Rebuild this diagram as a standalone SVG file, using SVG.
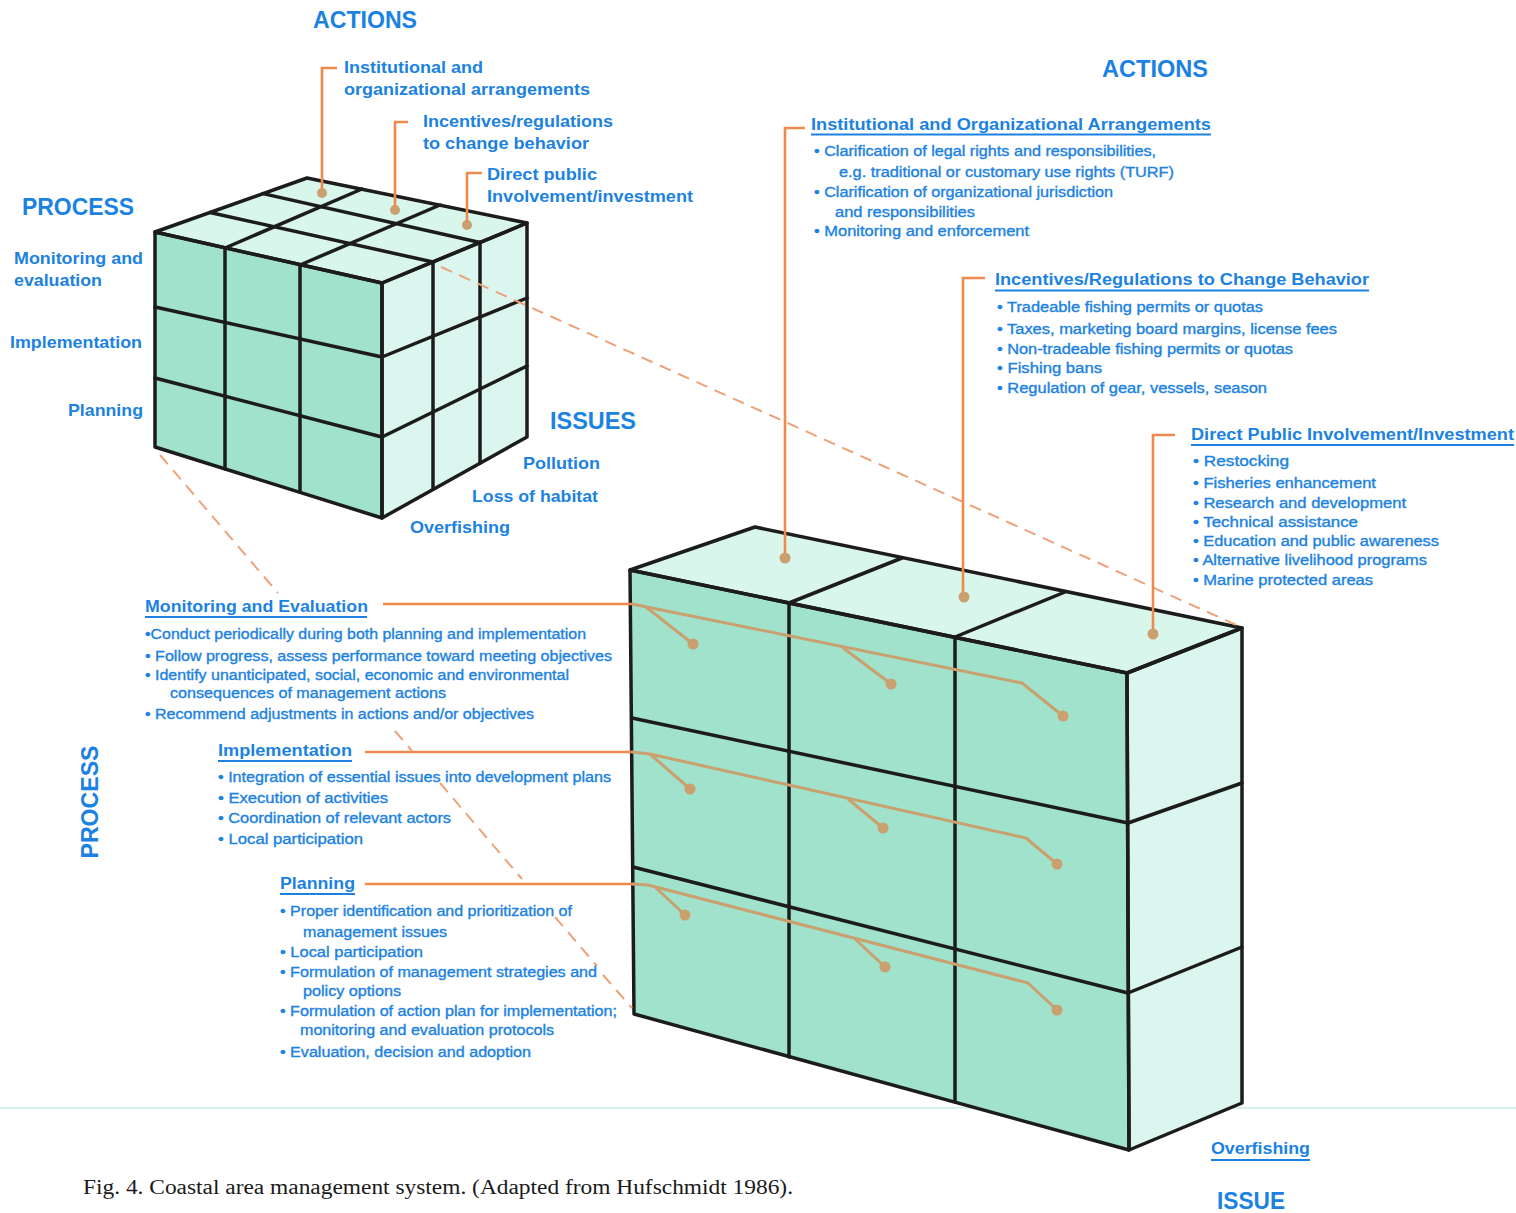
<svg xmlns="http://www.w3.org/2000/svg" width="1516" height="1213" viewBox="0 0 1516 1213">
  <style>
    text { font-family: "Liberation Sans", Arial, sans-serif; fill: #1b82e2; }
    .big { font-size: 23px; font-weight: bold; }
    .lab { font-size: 17px; font-weight: bold; }
    .hd { font-size: 16px; font-weight: bold; }
    .bul { font-size: 14px; stroke: #1b82e2; stroke-width: 0.35; }
    .cap { font-family: "Liberation Serif", "Times New Roman", serif; font-size: 20px; fill: #1a1a1a; }
    .ul { stroke: #1b82e2; stroke-width: 2; }
    .edge { stroke: #1c1c1c; stroke-width: 3.5; stroke-linejoin: round; stroke-linecap: round; fill: none; }
    .front { fill: #a1e2cc; }
    .top { fill: #d8f6ec; }
    .side { fill: #dbf6ee; }
    .orange { stroke: #f08a4c; stroke-width: 2.6; fill: none; }
    .tan { stroke: #c9a06e; stroke-width: 3; fill: none; stroke-linejoin: round; }
    .dash { stroke: #eda27a; stroke-width: 2; stroke-dasharray: 12 8; fill: none; }
    .dot { fill: #c9a06e; }
  </style>

  <rect width="1516" height="1213" fill="#ffffff"/>
  <!-- faint fold line across the page -->
  <line x1="0" y1="1108" x2="1516" y2="1108" stroke="#cdeee6" stroke-width="2" opacity="0.8"/>

  <!-- small 3x3x3 cube -->
  <g id="small-cube">
    <polygon class="front" points="155,232 382,283 382,518 155,447"/>
    <polygon class="side" points="382,283 527,223 527,437 382,518"/>
    <polygon class="top" points="155,232 307,178 527,223 382,283"/>
    <g class="edge">
      <polygon points="155,232 382,283 382,518 155,447"/>
      <polygon points="382,283 527,223 527,437 382,518"/>
      <polygon points="155,232 307,178 527,223 382,283"/>
      <!-- front grid -->
      <line x1="225" y1="248" x2="225" y2="469"/>
      <line x1="300" y1="265" x2="300" y2="492"/>
      <line x1="155" y1="307" x2="382" y2="357"/>
      <line x1="155" y1="378" x2="382" y2="437"/>
      <!-- side grid -->
      <line x1="433" y1="262" x2="433" y2="489"/>
      <line x1="480" y1="242" x2="480" y2="463"/>
      <line x1="382" y1="357" x2="527" y2="298"/>
      <line x1="382" y1="437" x2="527" y2="366"/>
      <!-- top grid -->
      <line x1="210" y1="212.5" x2="433" y2="262"/>
      <line x1="263" y1="193.6" x2="480" y2="242.5"/>
      <line x1="225" y1="248" x2="362" y2="189"/>
      <line x1="300" y1="265" x2="440" y2="205"/>
    </g>
    <circle class="dot" cx="322" cy="193" r="5"/>
    <circle class="dot" cx="395" cy="210" r="5"/>
    <circle class="dot" cx="467" cy="225" r="5"/>
  </g>

  <!-- large 3x3x1 block -->
  <g id="large-block">
    <polygon class="front" points="630,570 1127,673 1129,1150 634,1014"/>
    <polygon class="side" points="1127,673 1242,628 1242,1103 1129,1150"/>
    <polygon class="top" points="630,570 755,527 1242,628 1127,673"/>
    <g class="edge">
      <polygon points="630,570 1127,673 1129,1150 634,1014"/>
      <polygon points="1127,673 1242,628 1242,1103 1129,1150"/>
      <polygon points="630,570 755,527 1242,628 1127,673"/>
      <line x1="789" y1="603" x2="902" y2="558"/>
      <line x1="955" y1="637" x2="1065" y2="592"/>
      <line x1="789" y1="603" x2="789" y2="1057"/>
      <line x1="955" y1="637" x2="955" y2="1102"/>
      <line x1="632" y1="718" x2="1128" y2="823"/>
      <line x1="633" y1="867" x2="1128" y2="993"/>
      <line x1="1128" y1="823" x2="1242" y2="783"/>
      <line x1="1128" y1="993" x2="1242" y2="947"/>
    </g>
  </g>

  <!-- connectors -->
  <g id="connectors">
    <!-- projection lines between the two solids -->
    <line class="dash" x1="441" y1="267" x2="1243" y2="628"/>
    <line class="dash" x1="160" y1="455" x2="278" y2="593"/>
    <line class="dash" x1="395" y1="731" x2="412" y2="751"/>
    <line class="dash" x1="440" y1="783" x2="522" y2="879"/>
    <line class="dash" x1="555" y1="917" x2="597" y2="966"/>
    <line class="dash" x1="603" y1="975" x2="632" y2="1008"/>

    <!-- small cube action leaders -->
    <polyline class="orange" points="337,68 322,68 322,190"/>
    <polyline class="orange" points="408,122 395,122 395,207"/>
    <polyline class="orange" points="482,173 467,173 467,222"/>

    <!-- large block action leaders -->
    <polyline class="orange" points="805,128 785,128 785,556"/>
    <polyline class="orange" points="985,278 963,278 963,594"/>
    <polyline class="orange" points="1175,435 1153,435 1153,631"/>
    <circle class="dot" cx="785" cy="558" r="5.5"/>
    <circle class="dot" cx="964" cy="597" r="5.5"/>
    <circle class="dot" cx="1153" cy="634" r="5.5"/>

    <!-- monitoring and evaluation row -->
    <line class="orange" x1="383" y1="604" x2="634" y2="604"/>
    <polyline class="tan" points="632,604 1022,683 1063,716"/>
    <line class="tan" x1="646" y1="607" x2="693" y2="644"/>
    <line class="tan" x1="842" y1="647" x2="891" y2="684"/>
    <circle class="dot" cx="693" cy="644" r="5.5"/>
    <circle class="dot" cx="891" cy="684" r="5.5"/>
    <circle class="dot" cx="1063" cy="716" r="5.5"/>

    <!-- implementation row -->
    <line class="orange" x1="365" y1="752" x2="634" y2="752"/>
    <polyline class="tan" points="632,752 650,754 1026,838 1057,864"/>
    <line class="tan" x1="650" y1="754" x2="690" y2="789"/>
    <line class="tan" x1="848" y1="799" x2="883" y2="828"/>
    <circle class="dot" cx="690" cy="789" r="5.5"/>
    <circle class="dot" cx="883" cy="828" r="5.5"/>
    <circle class="dot" cx="1057" cy="864" r="5.5"/>

    <!-- planning row -->
    <line class="orange" x1="365" y1="884" x2="634" y2="884"/>
    <polyline class="tan" points="632,884 648,885 1028,983 1057,1010"/>
    <line class="tan" x1="655" y1="887" x2="685" y2="915"/>
    <line class="tan" x1="855" y1="939" x2="885" y2="967"/>
    <circle class="dot" cx="685" cy="915" r="5.5"/>
    <circle class="dot" cx="885" cy="967" r="5.5"/>
    <circle class="dot" cx="1057" cy="1010" r="5.5"/>
  </g>

  <!-- small cube labels -->
  <g id="small-actions">
    <text class="big" x="313" y="28" textLength="104" lengthAdjust="spacingAndGlyphs">ACTIONS</text>
    <text class="lab" x="344" y="73" textLength="139" lengthAdjust="spacingAndGlyphs">Institutional and</text>
    <text class="lab" x="344" y="95" textLength="246" lengthAdjust="spacingAndGlyphs">organizational arrangements</text>
    <text class="lab" x="423" y="127" textLength="190" lengthAdjust="spacingAndGlyphs">Incentives/regulations</text>
    <text class="lab" x="423" y="149" textLength="166" lengthAdjust="spacingAndGlyphs">to change behavior</text>
    <text class="lab" x="487" y="180" textLength="110" lengthAdjust="spacingAndGlyphs">Direct public</text>
    <text class="lab" x="487" y="202" textLength="206" lengthAdjust="spacingAndGlyphs">Involvement/investment</text>
  </g>
  <g id="small-process">
    <text class="big" x="22" y="215" textLength="112" lengthAdjust="spacingAndGlyphs">PROCESS</text>
    <text class="lab" x="14" y="264" textLength="129" lengthAdjust="spacingAndGlyphs">Monitoring and</text>
    <text class="lab" x="14" y="286" textLength="88" lengthAdjust="spacingAndGlyphs">evaluation</text>
    <text class="lab" x="10" y="348" textLength="132" lengthAdjust="spacingAndGlyphs">Implementation</text>
    <text class="lab" x="68" y="416" textLength="75" lengthAdjust="spacingAndGlyphs">Planning</text>
  </g>
  <g id="small-issues">
    <text class="big" x="550" y="429" textLength="86" lengthAdjust="spacingAndGlyphs">ISSUES</text>
    <text class="lab" x="523" y="469" textLength="77" lengthAdjust="spacingAndGlyphs">Pollution</text>
    <text class="lab" x="472" y="502" textLength="126" lengthAdjust="spacingAndGlyphs">Loss of habitat</text>
    <text class="lab" x="410" y="533" textLength="100" lengthAdjust="spacingAndGlyphs">Overfishing</text>
  </g>

  <!-- action descriptions -->
  <text class="big" x="1102" y="77" textLength="106" lengthAdjust="spacingAndGlyphs">ACTIONS</text>
  <g id="action-institutional">
    <text class="hd" x="811" y="130" textLength="400" lengthAdjust="spacingAndGlyphs">Institutional and Organizational Arrangements</text>
    <line class="ul" x1="811" y1="134.5" x2="1211" y2="134.5"/>
    <text class="bul" x="814" y="156" textLength="342" lengthAdjust="spacingAndGlyphs">• Clarification of legal rights and responsibilities,</text>
    <text class="bul" x="839" y="177" textLength="335" lengthAdjust="spacingAndGlyphs">e.g. traditional or customary use rights (TURF)</text>
    <text class="bul" x="814" y="197" textLength="299" lengthAdjust="spacingAndGlyphs">• Clarification of organizational jurisdiction</text>
    <text class="bul" x="835" y="217" textLength="140" lengthAdjust="spacingAndGlyphs">and responsibilities</text>
    <text class="bul" x="814" y="236" textLength="215" lengthAdjust="spacingAndGlyphs">• Monitoring and enforcement</text>
  </g>
  <g id="action-incentives">
    <text class="hd" x="995" y="285" textLength="374" lengthAdjust="spacingAndGlyphs">Incentives/Regulations to Change Behavior</text>
    <line class="ul" x1="995" y1="290.5" x2="1369" y2="290.5"/>
    <text class="bul" x="997" y="312" textLength="266" lengthAdjust="spacingAndGlyphs">• Tradeable fishing permits or quotas</text>
    <text class="bul" x="997" y="334" textLength="340" lengthAdjust="spacingAndGlyphs">• Taxes, marketing board margins, license fees</text>
    <text class="bul" x="997" y="354" textLength="296" lengthAdjust="spacingAndGlyphs">• Non-tradeable fishing permits or quotas</text>
    <text class="bul" x="997" y="373" textLength="105" lengthAdjust="spacingAndGlyphs">• Fishing bans</text>
    <text class="bul" x="997" y="393" textLength="270" lengthAdjust="spacingAndGlyphs">• Regulation of gear, vessels, season</text>
  </g>
  <g id="action-direct">
    <text class="hd" x="1191" y="440" textLength="323" lengthAdjust="spacingAndGlyphs">Direct Public Involvement/Investment</text>
    <line class="ul" x1="1191" y1="445" x2="1514" y2="445"/>
    <text class="bul" x="1193" y="466" textLength="96" lengthAdjust="spacingAndGlyphs">• Restocking</text>
    <text class="bul" x="1193" y="488" textLength="183" lengthAdjust="spacingAndGlyphs">• Fisheries enhancement</text>
    <text class="bul" x="1193" y="508" textLength="213" lengthAdjust="spacingAndGlyphs">• Research and development</text>
    <text class="bul" x="1193" y="527" textLength="165" lengthAdjust="spacingAndGlyphs">• Technical assistance</text>
    <text class="bul" x="1193" y="546" textLength="246" lengthAdjust="spacingAndGlyphs">• Education and public awareness</text>
    <text class="bul" x="1193" y="565" textLength="234" lengthAdjust="spacingAndGlyphs">• Alternative livelihood programs</text>
    <text class="bul" x="1193" y="585" textLength="180" lengthAdjust="spacingAndGlyphs">• Marine protected areas</text>
  </g>

  <!-- process descriptions -->
  <text class="big" transform="translate(90,802) rotate(-90)" x="0" y="8" text-anchor="middle" textLength="113" lengthAdjust="spacingAndGlyphs">PROCESS</text>
  <g id="process-monitoring">
    <text class="hd" x="145" y="612" textLength="223" lengthAdjust="spacingAndGlyphs">Monitoring and Evaluation</text>
    <line class="ul" x1="145" y1="617" x2="367" y2="617"/>
    <text class="bul" x="145" y="639" textLength="441" lengthAdjust="spacingAndGlyphs">•Conduct periodically during both planning and implementation</text>
    <text class="bul" x="145" y="661" textLength="467" lengthAdjust="spacingAndGlyphs">• Follow progress, assess performance toward meeting objectives</text>
    <text class="bul" x="145" y="680" textLength="424" lengthAdjust="spacingAndGlyphs">• Identify unanticipated, social, economic and environmental</text>
    <text class="bul" x="170" y="698" textLength="276" lengthAdjust="spacingAndGlyphs">consequences of management actions</text>
    <text class="bul" x="145" y="719" textLength="389" lengthAdjust="spacingAndGlyphs">• Recommend adjustments in actions and/or objectives</text>
  </g>
  <g id="process-implementation">
    <text class="hd" x="218" y="756" textLength="134" lengthAdjust="spacingAndGlyphs">Implementation</text>
    <line class="ul" x1="218" y1="761" x2="352" y2="761"/>
    <text class="bul" x="218" y="782" textLength="393" lengthAdjust="spacingAndGlyphs">• Integration of essential issues into development plans</text>
    <text class="bul" x="218" y="803" textLength="170" lengthAdjust="spacingAndGlyphs">• Execution of activities</text>
    <text class="bul" x="218" y="823" textLength="233" lengthAdjust="spacingAndGlyphs">• Coordination of relevant actors</text>
    <text class="bul" x="218" y="844" textLength="145" lengthAdjust="spacingAndGlyphs">• Local participation</text>
  </g>
  <g id="process-planning">
    <text class="hd" x="280" y="889" textLength="75" lengthAdjust="spacingAndGlyphs">Planning</text>
    <line class="ul" x1="280" y1="894" x2="355" y2="894"/>
    <text class="bul" x="280" y="916" textLength="292" lengthAdjust="spacingAndGlyphs">• Proper identification and prioritization of</text>
    <text class="bul" x="303" y="937" textLength="144" lengthAdjust="spacingAndGlyphs">management issues</text>
    <text class="bul" x="280" y="957" textLength="143" lengthAdjust="spacingAndGlyphs">• Local participation</text>
    <text class="bul" x="280" y="977" textLength="317" lengthAdjust="spacingAndGlyphs">• Formulation of management strategies and</text>
    <text class="bul" x="303" y="996" textLength="98" lengthAdjust="spacingAndGlyphs">policy options</text>
    <text class="bul" x="280" y="1016" textLength="337" lengthAdjust="spacingAndGlyphs">• Formulation of action plan for implementation;</text>
    <text class="bul" x="300" y="1035" textLength="254" lengthAdjust="spacingAndGlyphs">monitoring and evaluation protocols</text>
    <text class="bul" x="280" y="1057" textLength="251" lengthAdjust="spacingAndGlyphs">• Evaluation, decision and adoption</text>
  </g>

  <!-- issue axis -->
  <g id="issue-label">
    <text class="lab" x="1211" y="1154" textLength="99" lengthAdjust="spacingAndGlyphs">Overfishing</text>
    <line class="ul" x1="1211" y1="1160" x2="1310" y2="1160"/>
    <text class="big" x="1217" y="1209" textLength="68" lengthAdjust="spacingAndGlyphs">ISSUE</text>
  </g>

  <text class="cap" x="83" y="1194" textLength="710" lengthAdjust="spacingAndGlyphs">Fig. 4. Coastal area management system. (Adapted from Hufschmidt 1986).</text>
</svg>
